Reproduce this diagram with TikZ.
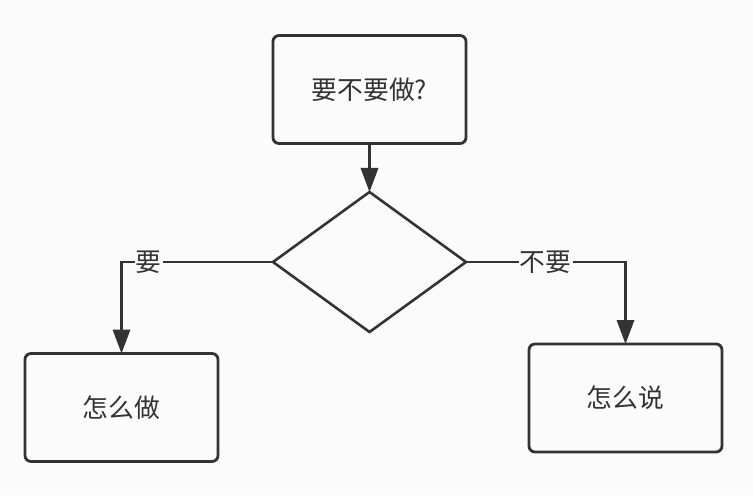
\documentclass[tikz,border=0pt]{standalone}
\usepackage{fontspec}
\setmainfont{Noto Sans CJK SC}
\definecolor{LineGrey}{HTML}{333333}
\definecolor{PaperGrey}{HTML}{FBFBFB}
\usetikzlibrary{shapes.geometric, arrows.meta}
\tikzset{
    box/.style={
        draw=LineGrey,
        line width=2.4pt,
        rounded corners=0.18cm,
        minimum width=5.79cm,
        minimum height=3.24cm,
        text=LineGrey,
        font=\fontsize{22pt}{26pt}\selectfont,
        align=center,
        outer sep=0pt
    },
    decision/.style={
        diamond,
        draw=LineGrey,
        line width=2.2pt,
        minimum width=5.79cm,
        minimum height=4.2cm,
        inner sep=0pt,
        outer sep=0pt
    },
    arrow/.style={
        -{Triangle[length=0.72cm, width=0.52cm]},
        line width=2pt,
        LineGrey
    },
    lbl/.style={
        fill=PaperGrey,
        text=LineGrey,
        font=\fontsize{22pt}{26pt}\selectfont,
        inner sep=1pt
    }
}
\begin{document}
\begin{tikzpicture}[x=0.03cm, y=-0.03cm]
        \fill[PaperGrey] (0,0) rectangle (753,495);
        \useasboundingbox (0,0) rectangle (753,495);

        % Question
        \node[box] (ask) at (369.5,89.5) {要不要做?};
        \node[decision] (choice) at (369.5,262) {};

        % Answers
        \node[box] (doit) at (121.5,407.5) {怎么做};
        \node[box] (sayit) at (625.5,398) {怎么说};

        % Connectors
        \draw[arrow] (ask) -- (choice);
        \draw[arrow] (choice.west) -| node[lbl, pos=0.41] {要} (doit.north);
        \draw[arrow] (choice.east) -| node[lbl, pos=0.25] {不要} (sayit.north);
    \end{tikzpicture}
\end{document}
